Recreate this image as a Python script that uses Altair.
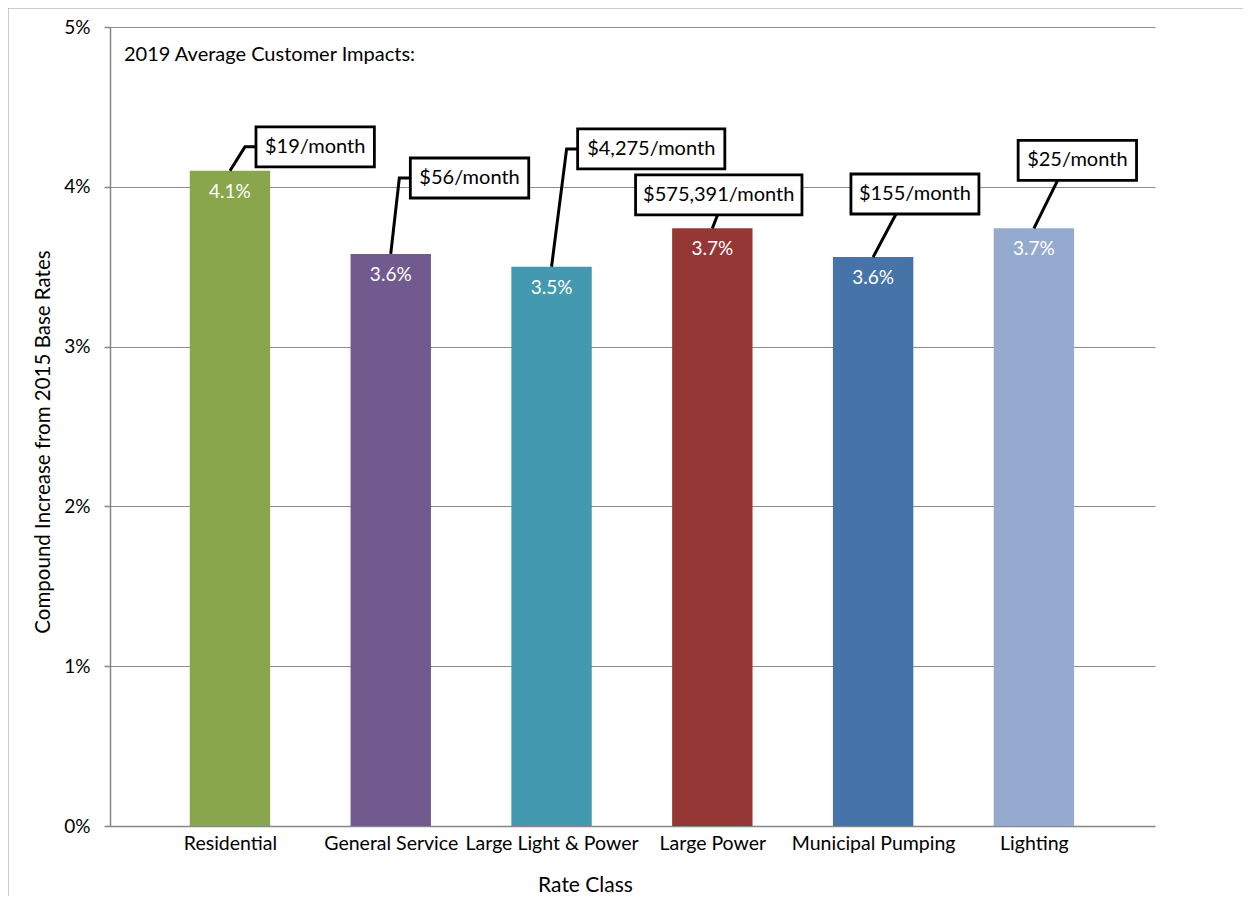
import json
import altair as alt
import pandas as pd

# ---- data ----
categories = ["Residential", "General Service", "Large Light & Power",
              "Large Power", "Municipal Pumping", "Lighting"]
increase = [0.041, 0.0358, 0.035, 0.0374, 0.0356, 0.0374]
bar_colors = ["#8AA64C", "#715A8E", "#4399B0", "#953735", "#4674A8", "#95AACF"]
impacts = ["$19/month", "$56/month", "$4,275/month", "$575,391/month",
           "$155/month", "$25/month"]
y_ticks = [0, 0.01, 0.02, 0.03, 0.04, 0.05]

# ---- annotation layout (callout box centre: category offset, value level) ----
callout_dx = [0.53, 0.49, 0.62, 0.04, 0.26, 0.27]
callout_y = [0.0425, 0.04055, 0.04237, 0.03949, 0.03955, 0.04165]
callout_side = ["left", "left", "left", "bottom", "bottom", "bottom"]

W, H = 1045, 799
X_DOMAIN = [-0.746, 5.753]
PX_X = W / (X_DOMAIN[1] - X_DOMAIN[0])
PX_Y = H / 0.05
FONT = "Lato"

n = len(categories)
idx = list(range(n))
df = pd.DataFrame({"idx": idx, "category": categories, "value": increase,
                   "color": bar_colors})

# callout boxes and leader lines
box_rows, line_rows = [], []
hh = 20 / PX_Y
for i in range(n):
    bx = i + callout_dx[i]
    by = callout_y[i]
    hw = (9.6 * len(impacts[i]) + 32) / 2 / PX_X
    box_rows.append({"label": impacts[i], "bx": bx, "by": by,
                     "x0": bx - hw, "x1": bx + hw, "y0": by - hh, "y1": by + hh})
    pts = [(i, increase[i])]
    if callout_side[i] == "left":
        pts += [(bx - hw - 11 / PX_X, by), (bx - hw, by)]
    else:
        pts += [((i + bx) / 2 + 2 / PX_X, by - hh)]
    for k, (px, py) in enumerate(pts):
        line_rows.append({"cid": i, "ord": k, "lx": px, "ly": py})
box_df = pd.DataFrame(box_rows)
line_df = pd.DataFrame(line_rows)

x_scale = alt.Scale(domain=X_DOMAIN, nice=False, zero=False)
y_scale = alt.Scale(domain=[0, 0.05], nice=False)
label_expr = "[" + ",".join(json.dumps(c) for c in categories) + "][datum.value]"

x_axis = alt.Axis(values=idx, labelExpr=label_expr, title="Rate Class",
                  grid=False, ticks=False, labelPadding=8, labelFontSize=19.5,
                  labelBaseline="top", titleFontSize=21, titleFontWeight="normal",
                  titleX=475, titleY=59, titleBaseline="middle",
                  titleAlign="center")
y_axis = alt.Axis(values=y_ticks, format="%", tickSize=6, labelPadding=14,
                  labelFontSize=19, title="Compound Increase from 2015 Base Rates",
                  titleFontSize=20.5, titleFontWeight="normal", titleAngle=270,
                  titleX=-67, titleY=H / 2 + 15, titleAlign="center",
                  titleBaseline="middle", gridColor="#8c8c8c", gridWidth=1)


def X(field):
    return alt.X(field, type="quantitative", scale=x_scale, axis=x_axis)


def Y(field):
    return alt.Y(field, type="quantitative", scale=y_scale, axis=y_axis)


bars = alt.Chart(df).transform_calculate(
    px="datum.idx - 0.25", px2="datum.idx + 0.25", py="datum.value", py2="0"
).mark_bar().encode(
    x=X("px"), x2="px2:Q", y=Y("py"), y2="py2:Q",
    color=alt.Color("color:N", scale=None),
)

values = alt.Chart(df).transform_calculate(
    px="datum.idx", py="datum.value"
).mark_text(color="white", font=FONT, fontSize=19, dy=21,
            baseline="middle").encode(
    x=X("px"), y=Y("py"),
    text=alt.Text("value:Q", format=".1%"),
)

leaders = alt.Chart(line_df).transform_calculate(
    px="datum.lx", py="datum.ly"
).mark_line(color="black", strokeWidth=3, strokeJoin="miter").encode(
    x=X("px"), y=Y("py"), detail="cid:N", order="ord:Q",
)

boxes = alt.Chart(box_df).transform_calculate(
    px="datum.x0", px2="datum.x1", py="datum.y0", py2="datum.y1"
).mark_rect(fill="white", stroke="black", strokeWidth=2.8).encode(
    x=X("px"), x2="px2:Q", y=Y("py"), y2="py2:Q",
)

box_text = alt.Chart(box_df).transform_calculate(
    px="datum.bx", py="datum.by"
).mark_text(font=FONT, fontSize=20, color="black", baseline="middle").encode(
    x=X("px"), y=Y("py"), text="label:N",
)

one = pd.DataFrame({"k": [0]})
note = alt.Chart(one).mark_text(font=FONT, fontSize=20, align="left",
                                baseline="middle", color="black").encode(
    x=alt.value(14), y=alt.value(28),
    text=alt.value("2019 Average Customer Impacts:"),
)

border_left = alt.Chart(one).mark_rule(color="#9a9a9a", strokeWidth=1).encode(
    x=alt.value(-102), y=alt.value(-19), y2=alt.value(900))
border_top = alt.Chart(one).mark_rule(color="#9a9a9a", strokeWidth=1).encode(
    x=alt.value(-102), x2=alt.value(1200), y=alt.value(-19))

chart = alt.layer(
    bars, values, leaders, boxes, box_text, note, border_left, border_top
).properties(
    width=W, height=H,
    autosize=alt.AutoSizeParams(type="none"),
    padding={"left": 102, "top": 19, "right": 88, "bottom": 70},
).configure_view(
    stroke="transparent"
).configure_axis(
    labelFont=FONT, titleFont=FONT, labelColor="black", titleColor="black",
    domainColor="#868686", domainWidth=1.5, tickColor="#868686", tickWidth=1.5,
)

chart.save("out.html", embed_options={"renderer": "svg", "actions": False})
